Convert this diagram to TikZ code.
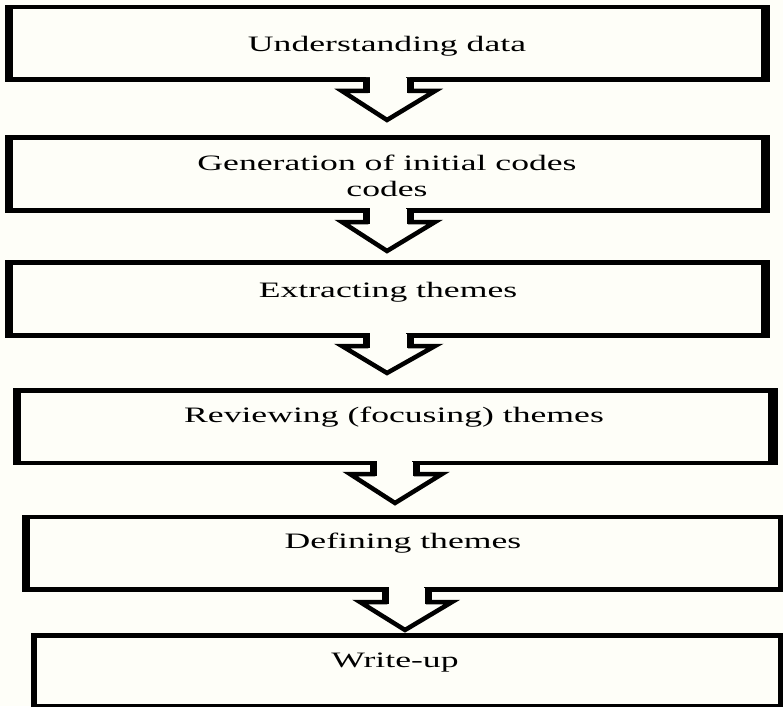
\documentclass[tikz,border=0pt]{standalone}
\usepackage{fontspec}
\setmainfont{Liberation Serif}
\definecolor{bgc}{RGB}{254,254,248}
\begin{document}
\begin{tikzpicture}[x=1pt,y=-1pt,
  outerbox/.style={fill=black, draw=none, inner sep=0pt, outer sep=0pt},
  txt/.style={font=\fontsize{22}{26}\selectfont, xscale=1.62, transform shape, align=center, inner sep=0pt, anchor=base},
  arrowline/.style={draw=black, fill=bgc, line width=4.5pt, line join=miter},
  shaftline/.style={draw=black, line width=7pt}]
\useasboundingbox (0,0) rectangle (783,706);
\fill[bgc] (0,0) rectangle (783,706);
\clip (0,0) rectangle (783,706);

% boxes: outer black, inner background
\fill[black] (5,5) rectangle (770,82);   \fill[bgc] (13,9) rectangle (761,77);
\fill[black] (5,135) rectangle (770,213); \fill[bgc] (13,140) rectangle (761,208);
\fill[black] (5,260) rectangle (770,338); \fill[bgc] (13,265) rectangle (761,333);
\fill[black] (13,388) rectangle (778,465); \fill[bgc] (21,393) rectangle (768,461);
\fill[black] (22,515) rectangle (790,592); \fill[bgc] (30,519) rectangle (778,587);
\fill[black] (31,633) rectangle (790,712); \fill[bgc] (37,638) rectangle (778,704);

% text nodes
\node[txt] (t1) at (387,52) {Understanding data};
\node[txt, anchor=north] (t2) at (387,155) {Generation of initial codes\\codes};
\node[txt] (t3) at (388,297) {Extracting themes};
\node[txt] (t4) at (394,422) {Reviewing (focusing) themes};
\node[txt] (t5) at (403,548) {Defining themes};
\node[txt] (t6) at (395,667) {Write-up};

% block arrows (open shaft into the box above)
\coordinate (a1L) at (366,78); \coordinate (a1R) at (410,78);
\path[arrowline] (a1L) -- (366,91) -- (342,91) -- (387,120) -- (435,91) -- (410,91) -- (a1R);
\fill[bgc] (370,76) rectangle (406,86);
\draw[shaftline] (a1L) -- (366,93) (a1R) -- (410,93);

\coordinate (a2L) at (366,209); \coordinate (a2R) at (410,209);
\path[arrowline] (a2L) -- (366,222) -- (342,222) -- (387,251) -- (435,222) -- (410,222) -- (a2R);
\fill[bgc] (370,207) rectangle (406,217);
\draw[shaftline] (a2L) -- (366,224) (a2R) -- (410,224);

\coordinate (a3L) at (366,334); \coordinate (a3R) at (410,334);
\path[arrowline] (a3L) -- (366,346) -- (342,346) -- (387,373) -- (435,346) -- (410,346) -- (a3R);
\fill[bgc] (370,332) rectangle (406,341);
\draw[shaftline] (a3L) -- (366,348) (a3R) -- (410,348);

\coordinate (a4L) at (373,462); \coordinate (a4R) at (416,462);
\path[arrowline] (a4L) -- (373,474) -- (350,474) -- (395,503) -- (442,474) -- (416,474) -- (a4R);
\fill[bgc] (377,459) rectangle (412,469);
\draw[shaftline] (a4L) -- (373,476) (a4R) -- (416,476);

\coordinate (a5L) at (385,588); \coordinate (a5R) at (428,588);
\path[arrowline] (a5L) -- (385,602) -- (360,602) -- (405,630) -- (452,602) -- (428,602) -- (a5R);
\fill[bgc] (389,585) rectangle (424,597);
\draw[shaftline] (a5L) -- (385,604) (a5R) -- (428,604);
\end{tikzpicture}
\end{document}
